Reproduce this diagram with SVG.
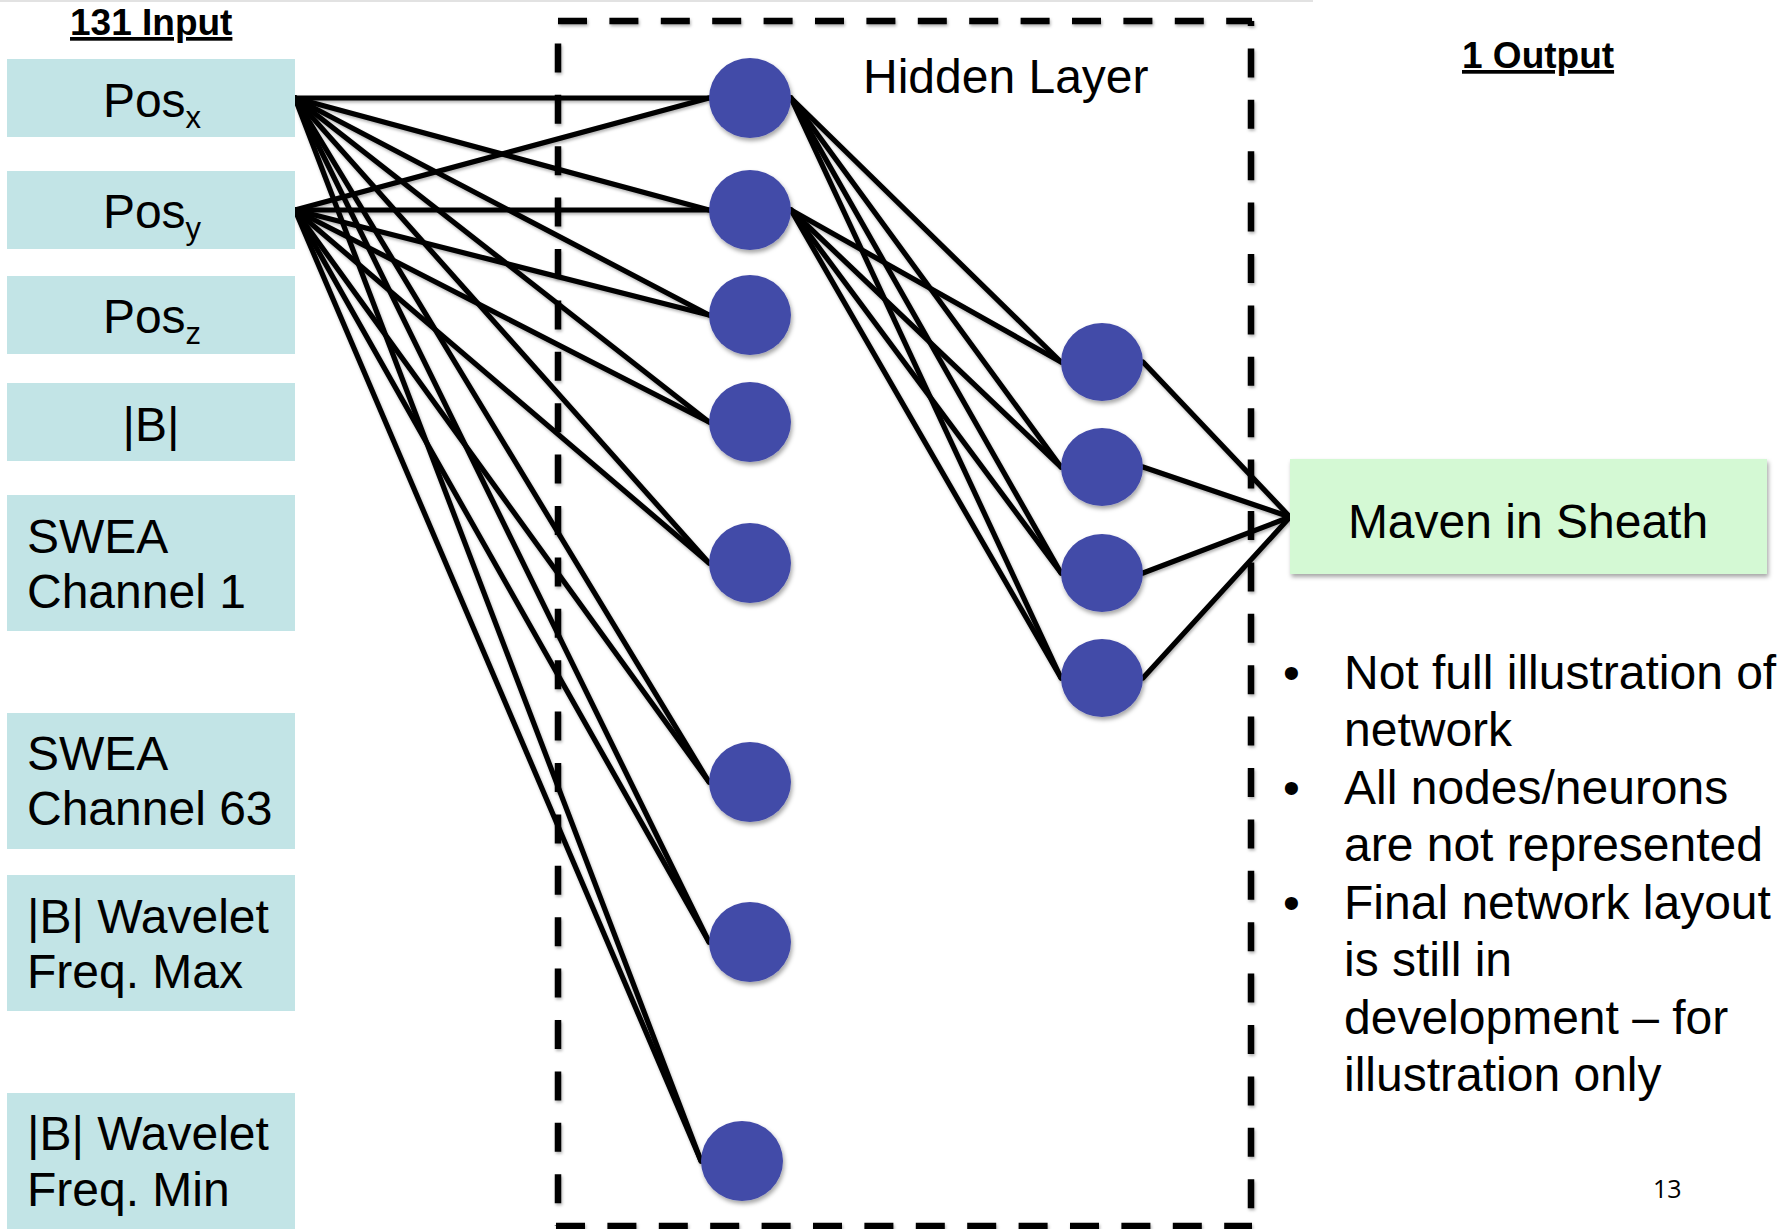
<svg xmlns="http://www.w3.org/2000/svg" width="1784" height="1229" viewBox="0 0 1784 1229">
  <defs>
    <filter id="softShadow" x="-20%" y="-20%" width="140%" height="140%">
      <feDropShadow dx="1.5" dy="3" stdDeviation="2.2" flood-color="#000" flood-opacity="0.35"/>
    </filter>
    <filter id="lineShadow" x="-5%" y="-5%" width="110%" height="110%">
      <feDropShadow dx="1" dy="2" stdDeviation="1.5" flood-color="#000" flood-opacity="0.3"/>
    </filter>
  </defs>
  <style>
    text { font-family: "Liberation Sans", Arial, sans-serif; fill: #000; }
    .title { font-size: 37px; font-weight: bold; text-decoration: underline; }
    .lbl { font-size: 48px; }
    .sub { font-size: 31px; }
    .bullet { font-size: 48px; }
    .pg { font-size: 25px; font-family: "Open Sans", "Liberation Sans", sans-serif; }
    .inbox { fill: #c2e4e6; }
    .outbox { fill: #d4f9d4; filter: url(#softShadow); }
    .neuron { fill: #434ba8; filter: url(#softShadow); }
    .edge { stroke: #000; stroke-width: 5.2; stroke-linecap: round; fill: none; }
    .frame { stroke: #000; stroke-width: 6.5; fill: none; stroke-dasharray: 29 22.4; }
    .gapdash { stroke: #c2e4e6; stroke-width: 6; stroke-dasharray: 23 14; filter: url(#lineShadow); }
  </style>

  <rect width="1784" height="1229" fill="#ffffff"/>
  <line x1="0" y1="1" x2="1313" y2="1" stroke="#e2e2e2" stroke-width="2"/>

  <!-- column headings -->
  <text class="title" x="70" y="35">131 Input</text>
  <text class="title" x="1462" y="68">1 Output</text>

  <!-- hidden layer frame -->
  <g id="hidden-frame" filter="url(#lineShadow)">
    <line class="frame" x1="558" y1="21" x2="1252" y2="21"/>
    <line class="frame" x1="558" y1="21" x2="558" y2="1226" stroke-dashoffset="29"/>
    <line class="frame" x1="1251" y1="21" x2="1251" y2="1226" stroke-dashoffset="24"/>
    <line class="frame" x1="556" y1="1226" x2="1252" y2="1226"/>
  </g>
  <text class="lbl" x="863" y="93">Hidden Layer</text>

  <!-- continuation marks between input boxes -->
  <line class="gapdash" x1="151" y1="631" x2="151" y2="713"/>
  <line class="gapdash" x1="151" y1="1011" x2="151" y2="1093"/>

  <!-- connectors -->
  <g id="connectors" class="edges" filter="url(#lineShadow)">
    <!-- Pos_x to first hidden column -->
    <line class="edge" x1="295" y1="98" x2="709" y2="98"/>
    <line class="edge" x1="295" y1="98" x2="709" y2="210"/>
    <line class="edge" x1="295" y1="98" x2="709" y2="315"/>
    <line class="edge" x1="295" y1="98" x2="709" y2="422"/>
    <line class="edge" x1="295" y1="98" x2="709" y2="563"/>
    <line class="edge" x1="295" y1="98" x2="709" y2="782"/>
    <line class="edge" x1="295" y1="98" x2="709" y2="942"/>
    <line class="edge" x1="295" y1="98" x2="701" y2="1161"/>
    <!-- Pos_y to first hidden column -->
    <line class="edge" x1="295" y1="210" x2="709" y2="98"/>
    <line class="edge" x1="295" y1="210" x2="709" y2="210"/>
    <line class="edge" x1="295" y1="210" x2="709" y2="315"/>
    <line class="edge" x1="295" y1="210" x2="709" y2="422"/>
    <line class="edge" x1="295" y1="210" x2="709" y2="563"/>
    <line class="edge" x1="295" y1="210" x2="709" y2="782"/>
    <line class="edge" x1="295" y1="210" x2="709" y2="942"/>
    <line class="edge" x1="295" y1="210" x2="701" y2="1161"/>
    <!-- first hidden column to second hidden column -->
    <line class="edge" x1="791" y1="98" x2="1061" y2="362"/>
    <line class="edge" x1="791" y1="98" x2="1061" y2="467"/>
    <line class="edge" x1="791" y1="98" x2="1061" y2="573"/>
    <line class="edge" x1="791" y1="98" x2="1061" y2="678"/>
    <line class="edge" x1="791" y1="210" x2="1061" y2="362"/>
    <line class="edge" x1="791" y1="210" x2="1061" y2="467"/>
    <line class="edge" x1="791" y1="210" x2="1061" y2="573"/>
    <line class="edge" x1="791" y1="210" x2="1061" y2="678"/>
    <!-- second hidden column to output -->
    <line class="edge" x1="1143" y1="362" x2="1290" y2="517"/>
    <line class="edge" x1="1143" y1="467" x2="1290" y2="517"/>
    <line class="edge" x1="1143" y1="573" x2="1290" y2="517"/>
    <line class="edge" x1="1143" y1="678" x2="1290" y2="517"/>
  </g>

  <!-- input nodes -->
  <g id="in-posx">
    <rect class="inbox" x="7" y="59" width="288" height="78"/>
    <text class="lbl" x="152" y="117" text-anchor="middle">Pos<tspan class="sub" dy="11">x</tspan></text>
  </g>
  <g id="in-posy">
    <rect class="inbox" x="7" y="171" width="288" height="78"/>
    <text class="lbl" x="152" y="228" text-anchor="middle">Pos<tspan class="sub" dy="11">y</tspan></text>
  </g>
  <g id="in-posz">
    <rect class="inbox" x="7" y="276" width="288" height="78"/>
    <text class="lbl" x="152" y="333" text-anchor="middle">Pos<tspan class="sub" dy="11">z</tspan></text>
  </g>
  <g id="in-bmag">
    <rect class="inbox" x="7" y="383" width="288" height="78"/>
    <text class="lbl" x="151" y="441" text-anchor="middle">|B|</text>
  </g>
  <g id="in-swea1">
    <rect class="inbox" x="7" y="495" width="288" height="136"/>
    <text class="lbl" x="27" y="553">SWEA</text>
    <text class="lbl" x="27" y="608">Channel 1</text>
  </g>
  <g id="in-swea63">
    <rect class="inbox" x="7" y="713" width="288" height="136"/>
    <text class="lbl" x="27" y="770">SWEA</text>
    <text class="lbl" x="27" y="825">Channel 63</text>
  </g>
  <g id="in-wmax">
    <rect class="inbox" x="7" y="875" width="288" height="136"/>
    <text class="lbl" x="27" y="933">|B| Wavelet</text>
    <text class="lbl" x="27" y="988">Freq. Max</text>
  </g>
  <g id="in-wmin">
    <rect class="inbox" x="7" y="1093" width="288" height="140"/>
    <text class="lbl" x="27" y="1150">|B| Wavelet</text>
    <text class="lbl" x="27" y="1206">Freq. Min</text>
  </g>

  <!-- first hidden column -->
  <g id="h1-1"><ellipse class="neuron" cx="750" cy="98" rx="41" ry="40"/></g>
  <g id="h1-2"><ellipse class="neuron" cx="750" cy="210" rx="41" ry="40"/></g>
  <g id="h1-3"><ellipse class="neuron" cx="750" cy="315" rx="41" ry="40"/></g>
  <g id="h1-4"><ellipse class="neuron" cx="750" cy="422" rx="41" ry="40"/></g>
  <g id="h1-5"><ellipse class="neuron" cx="750" cy="563" rx="41" ry="40"/></g>
  <g id="h1-6"><ellipse class="neuron" cx="750" cy="782" rx="41" ry="40"/></g>
  <g id="h1-7"><ellipse class="neuron" cx="750" cy="942" rx="41" ry="40"/></g>
  <g id="h1-8"><ellipse class="neuron" cx="742" cy="1161" rx="41" ry="40"/></g>

  <!-- second hidden column -->
  <g id="h2-1"><ellipse class="neuron" cx="1102" cy="362" rx="41" ry="39"/></g>
  <g id="h2-2"><ellipse class="neuron" cx="1102" cy="467" rx="41" ry="39"/></g>
  <g id="h2-3"><ellipse class="neuron" cx="1102" cy="573" rx="41" ry="39"/></g>
  <g id="h2-4"><ellipse class="neuron" cx="1102" cy="678" rx="41" ry="39"/></g>

  <!-- output node -->
  <g id="out-sheath">
    <rect class="outbox" x="1290" y="459" width="477" height="115"/>
    <text class="lbl" x="1528" y="538" text-anchor="middle">Maven in Sheath</text>
  </g>

  <!-- notes -->
  <g id="notes">
    <text class="bullet" x="1283" y="689">•</text>
    <text class="bullet" x="1344" y="689">Not full illustration of</text>
    <text class="bullet" x="1344" y="746">network</text>
    <text class="bullet" x="1283" y="804">•</text>
    <text class="bullet" x="1344" y="804">All nodes/neurons</text>
    <text class="bullet" x="1344" y="861">are not represented</text>
    <text class="bullet" x="1283" y="919">•</text>
    <text class="bullet" x="1344" y="919">Final network layout</text>
    <text class="bullet" x="1344" y="976">is still in</text>
    <text class="bullet" x="1344" y="1034">development – for</text>
    <text class="bullet" x="1344" y="1091">illustration only</text>
  </g>
  <text class="pg" x="1653" y="1198">13</text>
</svg>
